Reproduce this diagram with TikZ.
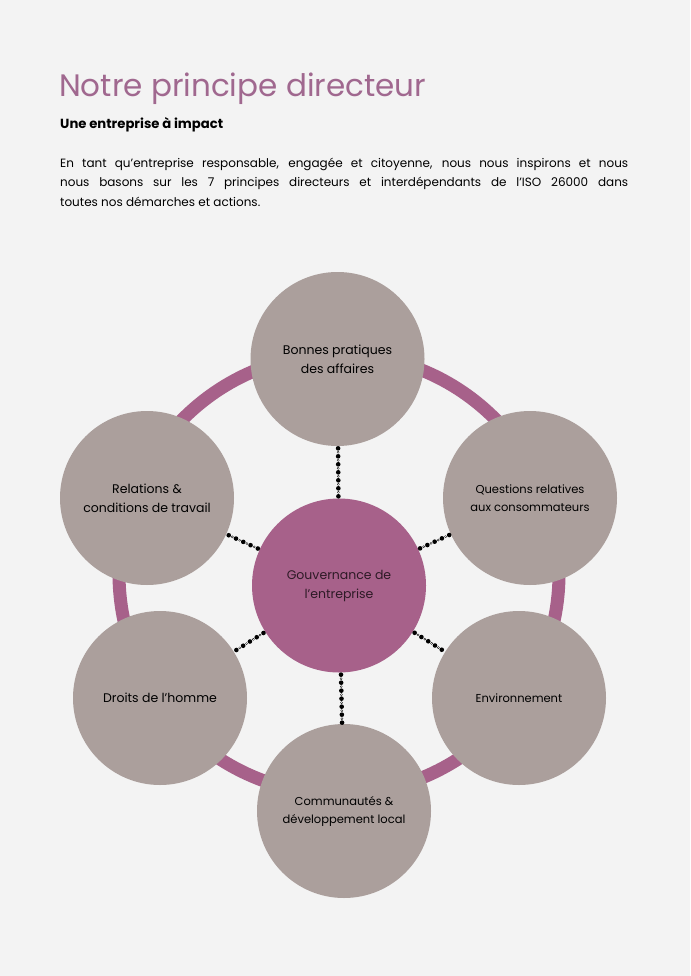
\documentclass[tikz,border=0pt]{standalone}
\usepackage{fontspec}
\setmainfont{Poppins}
\begin{document}
\begin{tikzpicture}[x=1pt,y=-1pt,
  bubble/.style={circle, fill=graycirc, minimum size=174pt, inner sep=0pt, align=center, text=black, font=\fontsize{12.5}{19}\selectfont},
  core/.style={circle, fill=corecol, minimum size=174pt, inner sep=0pt, align=center, text=coretext, font=\fontsize{12.5}{19}\selectfont},
  chain/.style={line width=4.6pt, line cap=round, dash pattern=on 0pt off 8pt, dash phase=-2pt,
    postaction={draw=black, line width=2.6pt, line cap=round, dash pattern=on 0pt off 8pt, dash phase=2pt},
    postaction={draw=bgcol, line width=1.3pt, line cap=round, dash pattern=on 0pt off 8pt, dash phase=2pt}}
]
\definecolor{bgcol}{HTML}{F3F3F3}
\definecolor{graycirc}{HTML}{AB9F9C}
\definecolor{corecol}{HTML}{A7618A}
\definecolor{coretext}{HTML}{2E1A26}
\definecolor{titlecol}{HTML}{A0688F}
\definecolor{ringcol}{HTML}{A7618A}
\useasboundingbox (0,0) rectangle (690,976);
\fill[bgcol] (0,0) rectangle (690,976);

\node[anchor=base west, inner sep=0pt, text=titlecol, font=\fontsize{31}{36}\selectfont] (title) at (59,97) {Notre principe directeur};
\node[anchor=base west, inner sep=0pt, font=\bfseries\fontsize{13.2}{16}\selectfont] (sub) at (60,129) {Une entreprise à impact};
\node[anchor=base west, inner sep=0pt, text width=568pt, align=justify, font=\fontsize{12}{19.5}\selectfont] (para) at (60,167.5)
 {En tant qu'entreprise responsable, engagée et citoyenne, nous nous inspirons et nous\linebreak nous basons sur les 7 principes directeurs et interdépendants de l'ISO 26000 dans\linebreak toutes nos démarches et actions.};

\draw[ringcol, line width=13pt] (339,574) circle (220);

\node[core] (c) at (339,585.5) {Gouvernance de\\l'entreprise};
\node[bubble] (b1) at (337.5,359) {Bonnes pratiques\\des affaires};
\node[bubble, font=\fontsize{11.5}{18}\selectfont] (b2) at (530,498) {Questions relatives\\aux consommateurs};
\node[bubble, font=\fontsize{11.5}{18}\selectfont] (b3) at (519,698) {Environnement};
\node[bubble, font=\fontsize{11.5}{18}\selectfont] (b4) at (344,811) {Communautés \&\\développement local};
\node[bubble] (b5) at (160,698) {Droits de l'homme};
\node[bubble] (b6) at (147,498) {Relations \&\\conditions de travail};

\foreach \t in {b1,b2,b3,b4,b5,b6} \draw[chain] (c) -- (\t);
\end{tikzpicture}
\end{document}
